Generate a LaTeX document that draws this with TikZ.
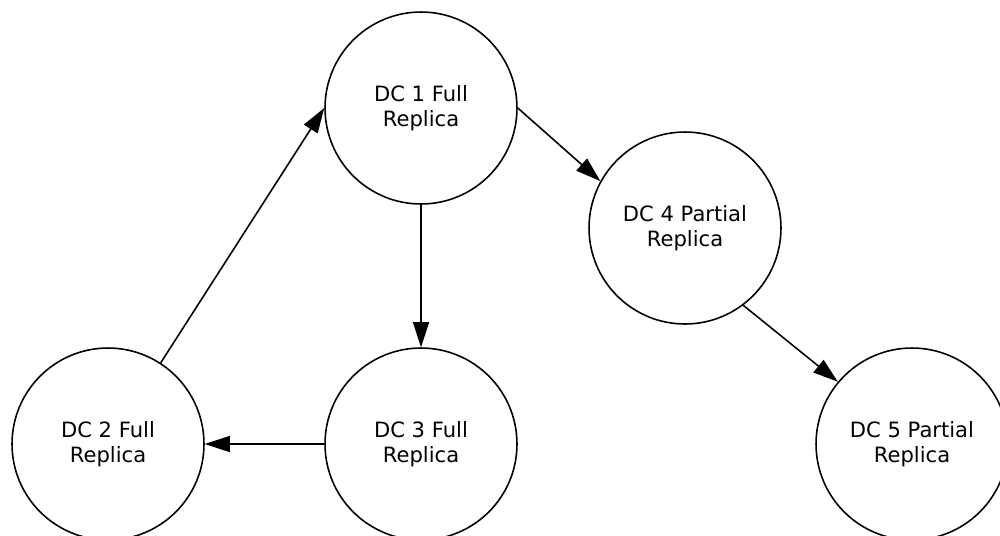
\documentclass[tikz,border=0pt]{standalone}
\usepackage{fontspec}
\setmainfont{DejaVu Sans}
\usetikzlibrary{arrows.meta}
\begin{document}
\begin{tikzpicture}[x=0.02cm, y=-0.02cm, font=\fontsize{12}{14.2}\selectfont, line join=round, >={Triangle[length=0.5cm,width=0.32cm]},
	dcnode/.style={circle, draw, line width=0.9pt, minimum size=3.84cm, inner sep=0pt, align=center},
	link/.style={->, line width=0.9pt}]
	\useasboundingbox (0,0) rectangle (1000,535);
	\path
	(421,108) coordinate (C1)
	(108,444) coordinate (C2)
	(421,444) coordinate (C3)
	(685,228) coordinate (C4)
	(912,444) coordinate (C5)
	;
	\foreach \d/\t in {1/Full,2/Full,3/Full,4/Partial,5/Partial}
		{\node[dcnode] (dc\d) at (C\d) {DC \d{} \t\\Replica};}
	\draw[link] (dc2.57)--(dc1.west);
	\draw[link] (dc1.east)--(dc4.151);
	\draw[link] (dc1.south)--(dc3.north);
	\draw[link] (dc3.west)--(dc2.east);
	\draw[link] (dc4.-53)--(dc5.140);
\end{tikzpicture}
\end{document}
